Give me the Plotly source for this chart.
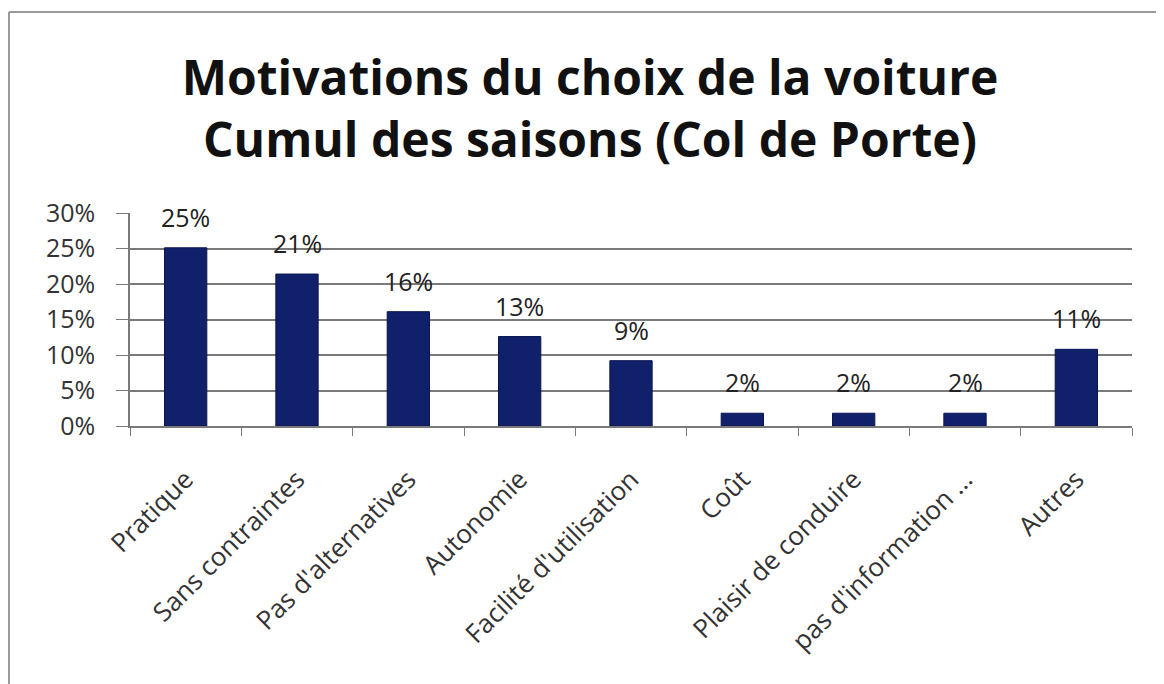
import plotly.graph_objects as go

categories = [
    "Pratique",
    "Sans contraintes",
    "Pas d'alternatives",
    "Autonomie",
    "Facilité d'utilisation",
    "Coût",
    "Plaisir de conduire",
    "pas d'information ...",
    "Autres",
]
shares = [0.251, 0.214, 0.161, 0.126, 0.092, 0.018, 0.018, 0.018, 0.108]
y_ticks = [0, 0.05, 0.10, 0.15, 0.20, 0.25, 0.30]

font = "Open Sans, Calibri, Liberation Sans, sans-serif"
bar_color = "#10206a"
grid = "#7a7a7a"

fig = go.Figure(
    go.Bar(
        x=categories,
        y=shares,
        marker=dict(color=bar_color, line=dict(color="#0a1650", width=1)),
        hoverinfo="x+y",
    )
)

# Excel-style value labels, sitting a bit above each bar
for cat, val in zip(categories, shares):
    fig.add_annotation(
        x=cat, y=val, text=f"{val:.0%}", showarrow=False,
        yshift=31, font=dict(family=font, size=25, color="#222222"),
    )

# chart frame (only top and left edges show in the original)
fig.add_shape(type="line", xref="paper", yref="paper",
              x0=-0.1208, x1=1.04, y0=1.944, y1=1.944,
              line=dict(color="#9a9a9a", width=2))
fig.add_shape(type="line", xref="paper", yref="paper",
              x0=-0.1208, x1=-0.1208, y0=1.944, y1=-1.3,
              line=dict(color="#9a9a9a", width=2))

fig.update_layout(
    width=1164,
    height=684,
    paper_bgcolor="white",
    plot_bgcolor="white",
    margin=dict(l=122, r=40, t=205, b=266),
    bargap=0.62,
    showlegend=False,
    font=dict(family=font, color="#333333"),
    title=dict(
        text="<b>Motivations du choix de la voiture<br>Cumul des saisons (Col de Porte)</b>",
        x=0.5, xref="container", xanchor="center",
        y=0.873, yanchor="middle",
        font=dict(family=font, size=48, color="#111111"),
    ),
    xaxis=dict(
        tickangle=-45,
        tickfont=dict(family=font, size=26, color="#333333"),
        ticklabelstandoff=26,
        showline=True, linecolor=grid, linewidth=1.5,
        ticks="outside", ticklen=8, tickcolor=grid, tickson="boundaries",
        showgrid=False,
    ),
    yaxis=dict(
        range=[0, 0.30],
        tickvals=y_ticks,
        tickformat=".0%",
        tickfont=dict(family=font, size=25, color="#333333"),
        ticklabelstandoff=16,
        showline=True, linecolor=grid, linewidth=1.5,
        ticks="outside", ticklen=12, tickcolor=grid,
        showgrid=True, gridcolor=grid, gridwidth=1.5,
        zeroline=False,
    ),
)

fig.write_html("out.html")
